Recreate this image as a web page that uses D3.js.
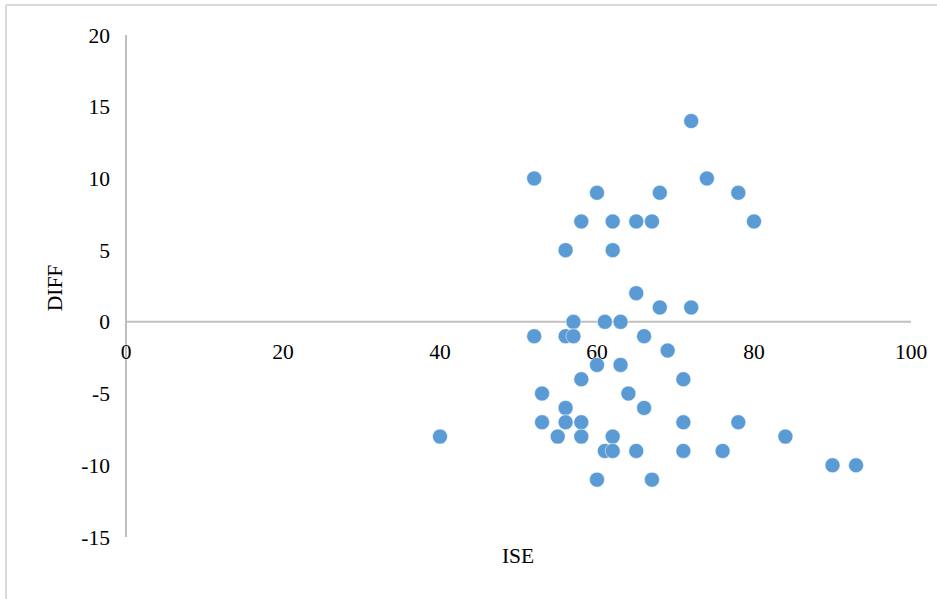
<!DOCTYPE html>
<html><head><meta charset="utf-8">
<script src="https://cdn.jsdelivr.net/npm/d3@7"></script>
<style>body{margin:0;background:#fff}svg{display:block}</style>
</head><body>
<svg id="c" width="937" height="599"></svg>
<script>
const ise  = [52,60,68,58,62,65,67,56,62,65,68,72,74,78,80,72,57,61,63,52,56,57,66,69,60,63,58,71,53,64,56,66,53,56,58,71,78,40,55,58,62,84,61,62,65,71,76,90,93,60,67];
const diff = [10,9,9,7,7,7,7,5,5,2,1,14,10,9,7,1,0,0,0,-1,-1,-1,-1,-2,-3,-3,-4,-4,-5,-5,-6,-6,-7,-7,-7,-7,-7,-8,-8,-8,-8,-8,-9,-9,-9,-9,-9,-10,-10,-11,-11];
const xTicks = [0,20,40,60,80,100];
const yTicks = [20,15,10,5,0,-5,-10,-15];
const xTitle = "ISE", yTitle = "DIFF";

const svg = d3.select("#c");
const font = "'Liberation Serif','Times New Roman',serif";
const fs = 21.5;
// frame
svg.append("line").attr("x1",6).attr("x2",937).attr("y1",5).attr("y2",5).attr("stroke","#d9d9d9").attr("stroke-width",2);
svg.append("line").attr("x1",6).attr("x2",6).attr("y1",5).attr("y2",599).attr("stroke","#d9d9d9").attr("stroke-width",2);

const x = d3.scaleLinear().domain([0,100]).range([126,911]);
const y = d3.scaleLinear().domain([-15,20]).range([537,35]);

svg.append("line").attr("x1",x(0)).attr("x2",x(100)).attr("y1",y(0)).attr("y2",y(0)).attr("stroke","#bfbfbf").attr("stroke-width",2);
svg.append("line").attr("x1",x(0)).attr("x2",x(0)).attr("y1",y(20)).attr("y2",y(-15)).attr("stroke","#bfbfbf").attr("stroke-width",2);

svg.append("g").selectAll("text").data(yTicks).join("text")
  .attr("x",110).attr("y",d=>y(d)).attr("dy","0.35em").attr("text-anchor","end")
  .attr("font-family",font).attr("font-size",fs).attr("fill","#000").text(d=>d);
svg.append("g").selectAll("text").data(xTicks).join("text")
  .attr("x",d=>x(d)).attr("y",y(0)+30).attr("dy","0.35em").attr("text-anchor","middle")
  .attr("font-family",font).attr("font-size",fs).attr("fill","#000").text(d=>d);

svg.append("text").attr("x",518).attr("y",555).attr("dy","0.35em").attr("text-anchor","middle")
  .attr("font-family",font).attr("font-size",fs).text(xTitle);
svg.append("text").attr("transform","translate(54,288) rotate(-90)").attr("dy","0.35em").attr("text-anchor","middle")
  .attr("font-family",font).attr("font-size",fs).text(yTitle);

const pts = ise.map((v,i)=>({x:v,y:diff[i]}));
svg.append("g").selectAll("circle").data(pts).join("circle")
  .attr("cx",d=>x(d.x)).attr("cy",d=>y(d.y)).attr("r",7.5)
  .attr("fill","#5b9bd5").attr("stroke","#fff").attr("stroke-width",0.5);
</script>
</body></html>
